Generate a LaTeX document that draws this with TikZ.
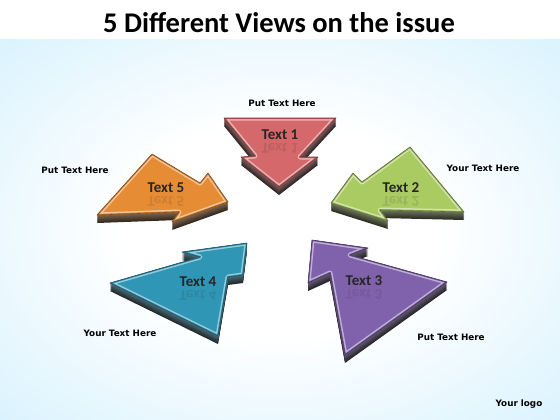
\documentclass[tikz,border=0pt]{standalone}
\usepackage{fontspec}
\newfontfamily\carlito{Carlito}
\newfontfamily\dejavu{DejaVu Sans}

\definecolor{skyblue}{RGB}{200,237,253}
\definecolor{redface}{RGB}{212,104,106}
\definecolor{greenface}{RGB}{170,202,98}
\definecolor{purpleface}{RGB}{128,98,172}
\definecolor{blueface}{RGB}{48,150,182}
\definecolor{orangeface}{RGB}{230,140,52}

\pgfdeclareradialshading{bgglow}{\pgfpoint{0bp}{0bp}}{color(0bp)=(white); color(14bp)=(white); color(46bp)=(skyblue); color(50bp)=(skyblue)}

\tikzset{
  facetext/.style={font=\carlito\bfseries\fontsize{15}{15}\selectfont, text=black!85},
  sidetext/.style={font=\dejavu\bfseries\fontsize{8.8}{9}\selectfont},
}
\newcommand{\arrowpath}[1]{(a#1-1) -- (a#1-2) -- (a#1-3) -- (a#1-4) -- (a#1-5) -- (a#1-6) -- (a#1-7) -- cycle}

\begin{document}
\begin{tikzpicture}[x=1pt,y=-1pt]
  \useasboundingbox (0,0) rectangle (560,420);
  \fill[white] (0,0) rectangle (560,40);
  \shade[shading=bgglow] (0,40) rectangle (560,420);
  \node[font=\carlito\bfseries\fontsize{28.5}{29}\selectfont] (title) at (279,23) {5 Different Views on the issue};

  % corners of the five arrows, tip first
  \foreach \x/\y [count=\k] in {279/187,318/157,300/157,336/118,224/118,255/156,241/157}
    \coordinate (a1-\k) at (\x,\y);
  \foreach \x/\y [count=\k] in {331/203,353/173,362/182,410/147,464/212,380/210,388/221}
    \coordinate (a2-\k) at (\x,\y);
  \foreach \x/\y [count=\k] in {312/240,368/248,350/255,447/282,345/355,330/273,308/283}
    \coordinate (a3-\k) at (\x,\y);
  \foreach \x/\y [count=\k] in {247/243,182/252,200/257,110/283,218/336,228/277,243/275}
    \coordinate (a4-\k) at (\x,\y);
  \foreach \x/\y [count=\k] in {228/202,208/173,200/183,152/154,97/215,179/212,172/222}
    \coordinate (a5-\k) at (\x,\y);

  \foreach \i/\col in {1/redface, 2/greenface, 3/purpleface, 4/blueface, 5/orangeface}{
    \foreach \d in {8,...,1}{
      \pgfmathtruncatemacro{\m}{80-6*\d}
      \fill[\col!35!gray!\m!black, transform canvas={yshift=-\d pt}] \arrowpath{\i};
    }
    \fill[\col] \arrowpath{\i};
    \begin{scope}
      \clip \arrowpath{\i};
      \draw[\col!50!white, line width=5pt, line join=round] \arrowpath{\i};
      \draw[\col!85!black, line width=2pt, line join=round] \arrowpath{\i};
    \end{scope}
    \draw[\col!55!black, line width=0.6pt, line join=round] \arrowpath{\i};
  }

  \foreach \i/\x/\y in {1/280/135, 2/401/188, 3/364/281, 4/198/282, 5/166/188}{
    \node[facetext] (t\i) at (\x,\y) {Text \i};
    \node[facetext, opacity=0.13, transform shape, yscale=-1] (r\i) at (\x,\y+13) {Text \i};
  }

  \foreach \i/\x/\y/\txt in {1/282/103/Put Text Here, 2/483/168/Your Text Here,
      3/451/337/Put Text Here, 4/120/333/Your Text Here, 5/75/170/Put Text Here}
    \node[sidetext] (l\i) at (\x,\y) {\txt};
  \node[sidetext] (logo) at (519,404) {Your logo};
\end{tikzpicture}
\end{document}
